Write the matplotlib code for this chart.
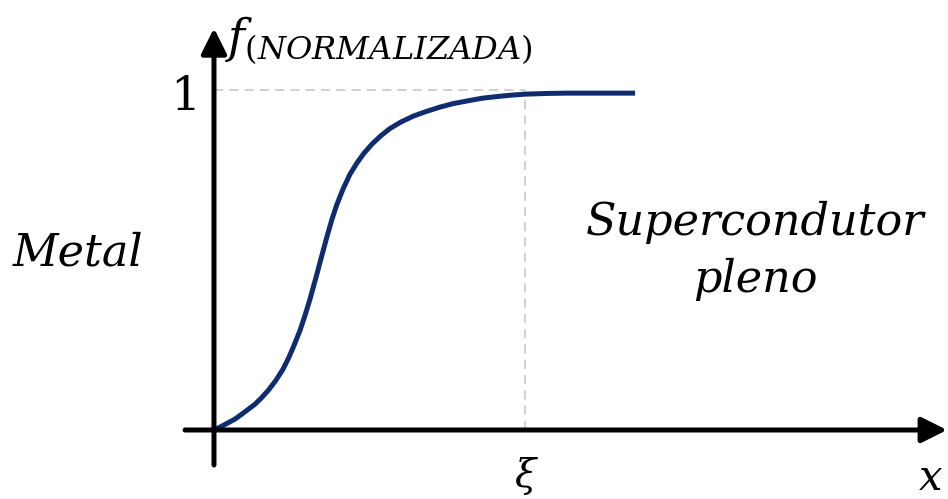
import matplotlib
matplotlib.use("Agg")
import matplotlib.pyplot as plt

plt.rcParams["mathtext.fontset"] = "dejavuserif"

# Normalised order parameter across a metal / superconductor interface
# (x measured in units of the coherence length xi)
x_pos = [0.0, 0.0225, 0.045, 0.0675, 0.090, 0.109, 0.132, 0.151, 0.174, 0.199,
         0.222, 0.241, 0.257, 0.277, 0.293, 0.309, 0.331, 0.347, 0.363, 0.379,
         0.395, 0.415, 0.437, 0.460, 0.482, 0.508, 0.537, 0.566, 0.601, 0.640,
         0.682, 0.727, 0.768, 0.814, 0.862, 0.910, 0.955, 1.0, 1.068, 1.135,
         1.241, 1.354]
f_norm = [0.0, 0.010, 0.021, 0.032, 0.047, 0.060, 0.076, 0.093, 0.116, 0.146,
          0.179, 0.214, 0.248, 0.294, 0.338, 0.386, 0.459, 0.514, 0.568, 0.619,
          0.663, 0.709, 0.752, 0.786, 0.814, 0.841, 0.866, 0.887, 0.906, 0.923,
          0.937, 0.950, 0.960, 0.968, 0.976, 0.981, 0.985, 0.988, 0.990, 0.991,
          0.991, 0.991]
xi_value = 1.0
f_max = 1.0

fig = plt.figure(figsize=(9.48, 4.99), dpi=100)
ax = fig.add_axes([0, 0, 1, 1])
ax.set_xlim(-0.688, 2.360)
ax.set_ylim(-0.203, 1.265)
ax.axis("off")

serif = "DejaVu Serif"

# guide lines at f = 1 and x = xi
ax.plot([0, xi_value], [f_max, f_max], color="#c4c4c4", lw=1.1,
        dashes=(6, 4), zorder=1)
ax.plot([xi_value, xi_value], [0, f_max], color="#c4c4c4", lw=1.1,
        dashes=(6, 4), zorder=1)

# curve
ax.plot(x_pos, f_norm, color="#0f2d6e", lw=3.6, solid_capstyle="butt",
        solid_joinstyle="round", antialiased=True, zorder=3)

# axes with arrow heads
arrow = dict(arrowstyle="-|>,head_length=0.7,head_width=0.35", lw=3.6,
             color="black", shrinkA=0, shrinkB=0, mutation_scale=22)
ax.annotate("", xy=(2.357, 0), xytext=(-0.093, 0), arrowprops=arrow, zorder=4)
ax.annotate("", xy=(0, 1.182), xytext=(0, -0.103), arrowprops=arrow, zorder=4)

# labels
ax.text(0.035, 1.148, r"$f_{(NORMALIZADA)}$", fontsize=33, ha="left",
        va="center")
ax.text(-0.045, 0.979, "1", fontsize=34, family=serif, ha="right",
        va="center")
ax.text(-0.437, 0.485, "Metal", fontsize=32, family=serif, style="italic",
        ha="center", va="baseline")
ax.text(1.740, 0.574, "Supercondutor", fontsize=32, family=serif,
        style="italic", ha="center", va="baseline")
ax.text(1.740, 0.406, "pleno", fontsize=32, family=serif, style="italic",
        ha="center", va="baseline")
ax.text(xi_value, -0.135, "\u03be", fontsize=28, family=serif,
        style="italic", ha="center", va="center")
ax.text(2.305, -0.141, "x", fontsize=30, family=serif, style="italic",
        ha="center", va="center")

fig.savefig("out.png", dpi=100)
